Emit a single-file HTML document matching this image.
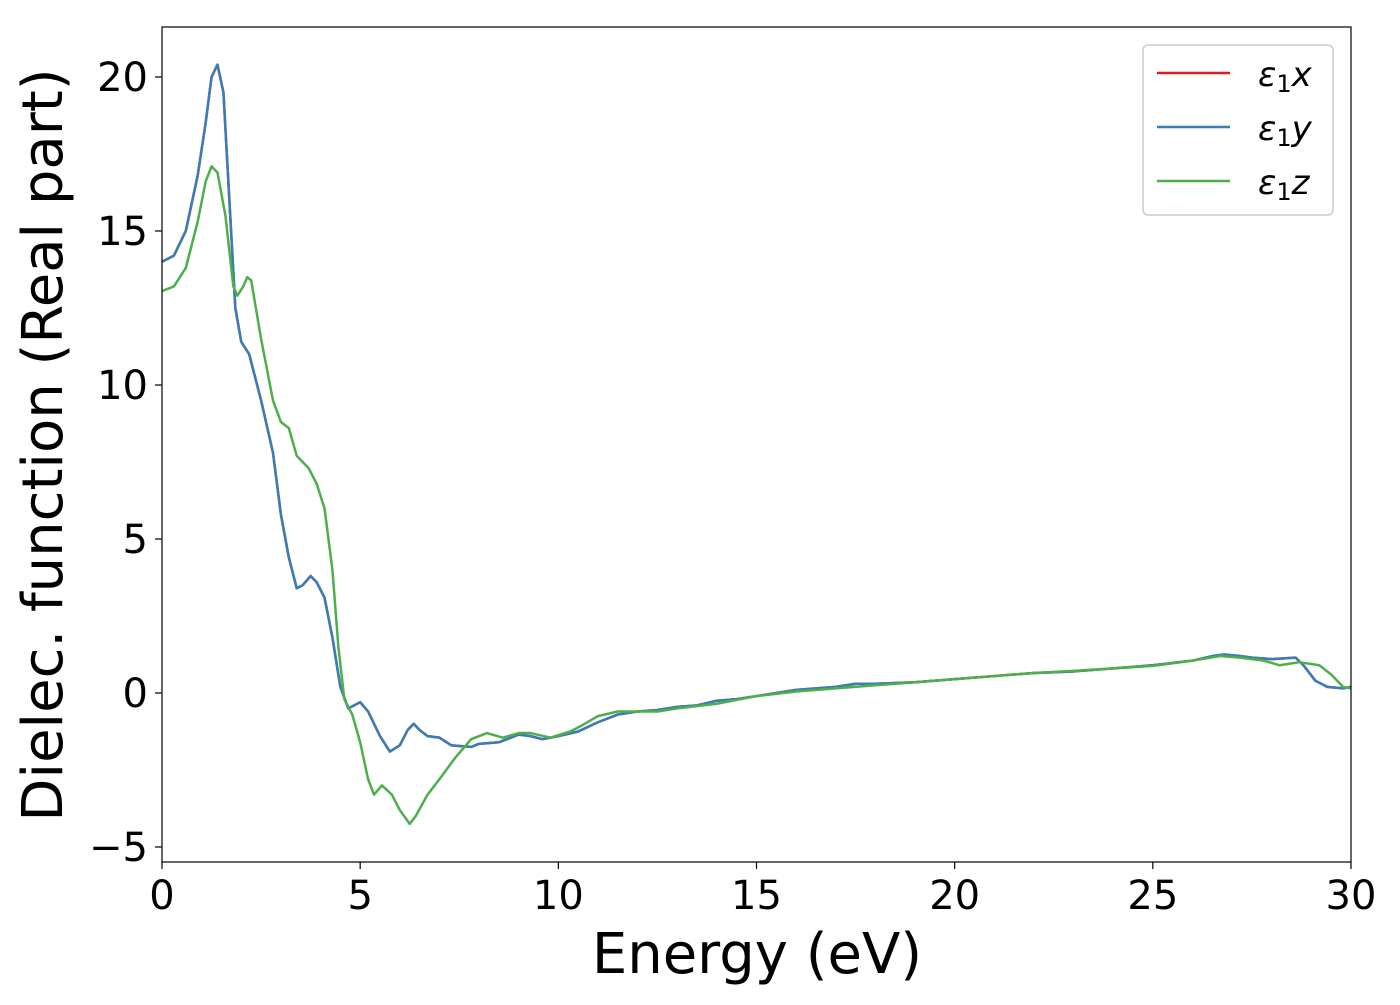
<!DOCTYPE html>
<html><head><meta charset="utf-8"><style>
body{margin:0;background:#fff}
svg text{font-family:"DejaVu Sans","Liberation Sans",sans-serif;fill:#000}
</style></head><body>
<svg width="1400" height="1000" viewBox="0 0 1400 1000">
<g id="plot"></g>
<g id="axes"></g>
<text x="757" y="973" font-size="56" text-anchor="middle">Energy (eV)</text>
<text transform="translate(62,445) rotate(-90)" font-size="56" text-anchor="middle">Dielec. function (Real part)</text>
<g>
<rect x="1143" y="45" width="190" height="170" rx="5" fill="#fff" stroke="#ccc" stroke-width="1.5"/>
<g><line x1="1157" y1="73" x2="1230" y2="73" stroke="#e41a1c" stroke-width="2.5"/><text x="1258" y="86" font-size="34" font-style="italic">ε<tspan font-size="24" font-style="normal" dy="6">1</tspan><tspan dy="-6">x</tspan></text></g>
<g><line x1="1157" y1="127" x2="1230" y2="127" stroke="#377eb8" stroke-width="2.5"/><text x="1258" y="140" font-size="34" font-style="italic">ε<tspan font-size="24" font-style="normal" dy="6">1</tspan><tspan dy="-6">y</tspan></text></g>
<g><line x1="1157" y1="181" x2="1230" y2="181" stroke="#4daf4a" stroke-width="2.5"/><text x="1258" y="194" font-size="34" font-style="italic">ε<tspan font-size="24" font-style="normal" dy="6">1</tspan><tspan dy="-6">z</tspan></text></g>
</g>
</svg>
<script>
const energyXY=[0,0.3,0.6,0.9,1.1,1.25,1.4,1.55,1.7,1.85,2.0,2.2,2.5,2.8,3.0,3.2,3.4,3.55,3.75,3.9,4.1,4.3,4.5,4.7,4.85,5.0,5.2,5.5,5.75,6.0,6.2,6.35,6.5,6.7,7.0,7.3,7.8,8.0,8.5,9.0,9.3,9.6,10,10.5,11,11.5,12,12.5,13,13.5,14,14.5,15,15.5,16,16.5,17,17.5,18,19,20,21,22,23,24,25,26,26.5,26.8,27.2,27.5,28,28.6,28.8,29.1,29.4,29.8,30];
const epsX=[14.0,14.2,15.0,16.8,18.5,20.0,20.4,19.5,16,12.5,11.4,11.0,9.5,7.8,5.8,4.4,3.4,3.5,3.8,3.6,3.1,1.8,0.2,-0.5,-0.4,-0.3,-0.6,-1.4,-1.9,-1.7,-1.2,-1.0,-1.2,-1.4,-1.45,-1.7,-1.75,-1.65,-1.6,-1.35,-1.4,-1.5,-1.4,-1.25,-0.95,-0.7,-0.6,-0.55,-0.45,-0.4,-0.25,-0.2,-0.1,0,0.1,0.15,0.2,0.3,0.3,0.35,0.45,0.55,0.65,0.7,0.8,0.9,1.05,1.2,1.25,1.2,1.15,1.1,1.15,0.9,0.4,0.2,0.15,0.2];
const epsY=epsX.slice();
const energyZ=[0,0.3,0.6,0.9,1.1,1.25,1.4,1.6,1.8,1.9,2.05,2.15,2.25,2.5,2.8,3.0,3.2,3.4,3.55,3.7,3.9,4.1,4.3,4.45,4.6,4.8,5.0,5.2,5.35,5.55,5.8,6.0,6.25,6.4,6.7,7.0,7.4,7.8,8.2,8.6,9.0,9.3,9.8,10.3,10.6,11,11.5,12,12.5,13,14,15,16,17,18,19,20,21,22,23,24,25,26,26.7,27.2,27.8,28.2,28.7,29.2,29.5,29.8,30];
const epsZ=[13.05,13.2,13.8,15.3,16.6,17.1,16.9,15.5,13.2,12.9,13.2,13.5,13.4,11.5,9.5,8.8,8.6,7.7,7.5,7.3,6.8,6.0,4.0,1.5,-0.2,-0.7,-1.6,-2.8,-3.3,-3.0,-3.3,-3.8,-4.25,-4.0,-3.3,-2.8,-2.1,-1.5,-1.3,-1.45,-1.3,-1.3,-1.45,-1.25,-1.05,-0.75,-0.6,-0.6,-0.6,-0.5,-0.35,-0.1,0.05,0.15,0.25,0.35,0.45,0.55,0.65,0.72,0.8,0.88,1.05,1.2,1.15,1.05,0.9,1.0,0.9,0.6,0.2,0.15];
const xTicks=[0,5,10,15,20,25,30];
const yTicks=[-5,0,5,10,15,20];
const L=162,R=1351,T=27,B=862;
const sx=v=>L+(v-0)*(R-L)/30;
const sy=v=>693-v*30.8;
const NS="http://www.w3.org/2000/svg";
const plot=document.getElementById('plot'),axes=document.getElementById('axes');
function mk(tag,attrs,parent){const e=document.createElementNS(NS,tag);for(const k in attrs)e.setAttribute(k,attrs[k]);parent.appendChild(e);return e;}
const defs=mk('defs',{},plot);
const cp=mk('clipPath',{id:'clip'},defs);mk('rect',{x:L,y:T,width:R-L,height:B-T},cp);
function series(xs,ys,color,name){
  const p=mk('polyline',{points:xs.map((x,i)=>sx(x)+','+sy(ys[i])).join(' '),fill:'none',stroke:color,'stroke-width':2.5,'stroke-linejoin':'round','clip-path':'url(#clip)'},plot);
  
  
}
series(energyXY,epsX,'#e41a1c','line-eps1-x');
series(energyXY,epsY,'#377eb8','line-eps1-y');
series(energyZ,epsZ,'#4daf4a','line-eps1-z');
const frame=mk('rect',{x:L,y:T,width:R-L,height:B-T,fill:'none',stroke:'#000','stroke-width':1.2},axes);


xTicks.forEach(t=>{
  mk('line',{x1:sx(t),x2:sx(t),y1:B,y2:B+7,stroke:'#000','stroke-width':1.2},axes);
  const tx=mk('text',{x:sx(t),y:B+47,'font-size':40,'text-anchor':'middle'},axes);tx.textContent=t;
  
  
});
yTicks.forEach(t=>{
  mk('line',{x1:L-7,x2:L,y1:sy(t),y2:sy(t),stroke:'#000','stroke-width':1.2},axes);
  const tx=mk('text',{x:L-14,y:sy(t)+14,'font-size':40,'text-anchor':'end'},axes);tx.textContent=t<0?'\u2212'+(-t):t;
  
  
});
</script>
</body></html>
